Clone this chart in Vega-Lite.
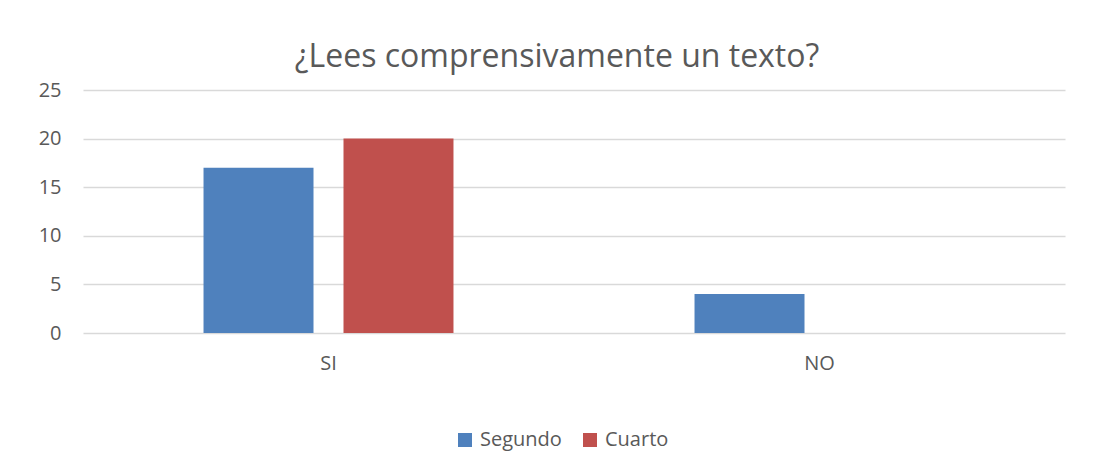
{
  "$schema": "https://vega.github.io/schema/vega-lite/v6.json",
  "autosize": "none",
  "width": 982,
  "height": 243,
  "padding": {"left": 83, "top": 90, "right": 40, "bottom": 139},
  "background": "white",
  "title": {
    "text": "¿Lees comprensivamente un texto?",
    "font": "Open Sans",
    "fontSize": 32,
    "fontWeight": "normal",
    "color": "#595959",
    "anchor": "middle",
    "dx": -17,
    "offset": 6
  },
  "data": {
    "values": [
      {"respuesta": "SI", "grado": "Segundo", "valor": 17},
      {"respuesta": "SI", "grado": "Cuarto", "valor": 20},
      {"respuesta": "NO", "grado": "Segundo", "valor": 4},
      {"respuesta": "NO", "grado": "Cuarto", "valor": 0}
    ]
  },
  "mark": {"type": "bar"},
  "encoding": {
    "x": {
      "field": "respuesta",
      "type": "nominal",
      "sort": ["SI", "NO"],
      "scale": {"paddingInner": 0, "paddingOuter": 0},
      "axis": {
        "title": null,
        "labelAngle": 0,
        "domain": false,
        "ticks": false,
        "labelPadding": 20,
        "labelFont": "Open Sans",
        "labelFontSize": 20,
        "labelColor": "#595959"
      }
    },
    "xOffset": {
      "field": "grado",
      "type": "nominal",
      "sort": ["Segundo", "Cuarto"],
      "scale": {"paddingInner": 0.2143, "paddingOuter": 0.861}
    },
    "y": {
      "field": "valor",
      "type": "quantitative",
      "scale": {"domain": [0, 25]},
      "axis": {
        "title": null,
        "values": [0, 5, 10, 15, 20, 25],
        "domain": false,
        "ticks": false,
        "labelPadding": 22,
        "labelFont": "Open Sans",
        "labelFontSize": 20,
        "labelColor": "#595959",
        "gridColor": "#d9d9d9",
        "gridWidth": 1.5
      }
    },
    "color": {
      "field": "grado",
      "type": "nominal",
      "sort": ["Segundo", "Cuarto"],
      "scale": {"domain": ["Segundo", "Cuarto"], "range": ["#4f81bd", "#c0504d"]},
      "legend": {
        "title": null,
        "orient": "none",
        "direction": "horizontal",
        "legendX": 372,
        "legendY": 340,
        "symbolType": "square",
        "symbolSize": 196,
        "symbolOpacity": 1,
        "symbolStrokeWidth": 0,
        "labelFont": "Open Sans",
        "labelFontSize": 20,
        "labelColor": "#595959",
        "labelOffset": 5,
        "columnPadding": 18
      }
    }
  },
  "config": {
    "view": {"stroke": null}
  }
}
